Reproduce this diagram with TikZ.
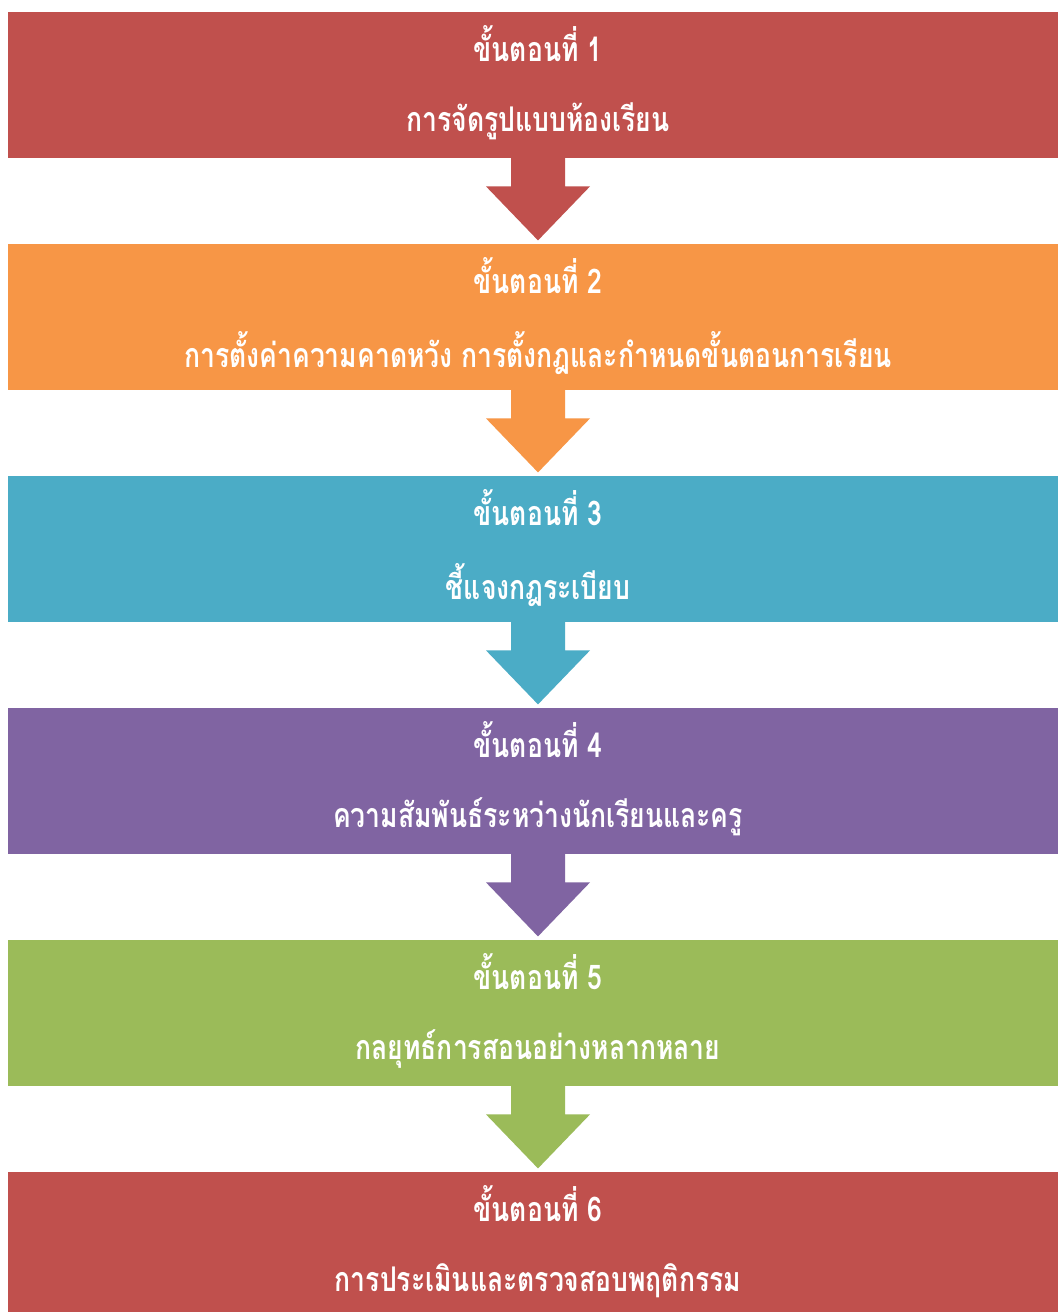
\documentclass[tikz,border=0pt]{standalone}
\usepackage{fontspec}
\newfontfamily\thaifont[Script=Thai,FakeStretch=0.78]{Loma}
\usetikzlibrary{calc}
\definecolor{cred}{HTML}{C0504D}
\definecolor{corange}{HTML}{F79646}
\definecolor{cteal}{HTML}{4BACC6}
\definecolor{cpurple}{HTML}{8064A2}
\definecolor{cgreen}{HTML}{9BBB59}
\tikzset{
  stepbox/.style={rectangle, draw=none, minimum width=1050pt, minimum height=146.5pt, inner sep=0pt, anchor=north west},
  steptext/.style={text=white, font=\thaifont\bfseries\fontsize{34}{40}\selectfont, inner sep=0pt},
}
\begin{document}
\begin{tikzpicture}[x=1pt,y=-1pt]
\useasboundingbox (0,0) rectangle (1058,1312);
\fill[white] (0,0) rectangle (1058,1312);
\node[stepbox, fill=cred]    (b1) at (8,11.5) {};
\node[stepbox, fill=corange] (b2) at (8,243.5) {};
\node[stepbox, fill=cteal]   (b3) at (8,475.5) {};
\node[stepbox, fill=cpurple] (b4) at (8,707.5) {};
\node[stepbox, fill=cgreen]  (b5) at (8,939.5) {};
\node[stepbox, fill=cred]    (b6) at (8,1171.5) {};
% arrows
\foreach \b/\c in {b1/cred,b2/corange,b3/cteal,b4/cpurple,b5/cgreen}{
  \fill[\c] ($(\b.south west)+(503,-0.5)$) -- ++(0,28.5) -- ++(-25,0) -- ++(52,54) -- ++(52,-54) -- ++(-25,0) -- ++(0,-28.5) -- cycle;
}
% texts
\node[steptext] (t1a) at (538,44) {ขั้นตอนที่ 1};
\node[steptext] (t1b) at (538,121) {การจัดรูปแบบห้องเรียน};
\node[steptext] (t2a) at (538,276) {ขั้นตอนที่ 2};
\node[steptext] (t2b) at (538,353) {การตั้งค่าความคาดหวัง การตั้งกฎและกำหนดขั้นตอนการเรียน};
\node[steptext] (t3a) at (538,508) {ขั้นตอนที่ 3};
\node[steptext] (t3b) at (538,585) {ชี้แจงกฎระเบียบ};
\node[steptext] (t4a) at (538,740) {ขั้นตอนที่ 4};
\node[steptext] (t4b) at (538,817) {ความสัมพันธ์ระหว่างนักเรียนและครู};
\node[steptext] (t5a) at (538,972) {ขั้นตอนที่ 5};
\node[steptext] (t5b) at (538,1049) {กลยุทธ์การสอนอย่างหลากหลาย};
\node[steptext] (t6a) at (538,1204) {ขั้นตอนที่ 6};
\node[steptext] (t6b) at (538,1281) {การประเมินและตรวจสอบพฤติกรรม};
\end{tikzpicture}
\end{document}
